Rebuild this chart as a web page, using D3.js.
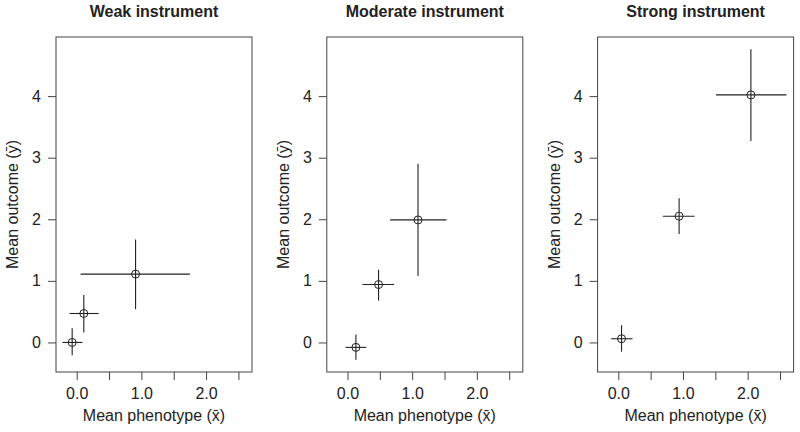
<!DOCTYPE html>
<html>
<head>
<meta charset="utf-8">
<script src="https://cdn.jsdelivr.net/npm/d3@7"></script>
<style>
  body { margin: 0; background: #fff; }
  text { font-family: "Liberation Sans", Arial, Helvetica, sans-serif; fill: #222; }
</style>
</head>
<body>
<div id="chart"></div>
<script>
// panel titles
const titles = ["Weak instrument", "Moderate instrument", "Strong instrument"];

// one row per panel, one value per point
const xMean = [[-0.07, 0.11, 0.91], [0.13, 0.48, 1.09], [0.05, 0.94, 2.05]];
const xLow  = [[-0.22, -0.11, 0.06], [-0.03, 0.23, 0.66], [-0.11, 0.69, 1.51]];
const xHigh = [[0.09, 0.34, 1.75], [0.29, 0.72, 1.53], [0.22, 1.18, 2.60]];
const yMean = [[0.00, 0.47, 1.11], [-0.08, 0.94, 1.99], [0.06, 2.05, 4.02]];
const yLow  = [[-0.21, 0.16, 0.54], [-0.28, 0.68, 1.08], [-0.15, 1.76, 3.27]];
const yHigh = [[0.23, 0.77, 1.67], [0.13, 1.18, 2.90], [0.28, 2.34, 4.76]];

// ticks
const xTicks = [0, 0.5, 1, 1.5, 2, 2.5];
const xTickLabels = ["0.0", "", "1.0", "", "2.0", ""];
const yTicks = [0, 1, 2, 3, 4];

const width = 800, height = 432;
const boxW = 196, plotTop = 37, plotBottom = 372;

const svg = d3.select("#chart")
    .append("svg")
    .attr("width", width)
    .attr("height", height);

titles.forEach((title, i) => {
    const left = 56 + i * 270.8;

    let xScale = d3.scaleLinear()
        .domain([-0.32, 2.71])
        .range([left, left + boxW]);

    let yScale = d3.scaleLinear()
        .domain([-0.48, 4.96])
        .range([plotBottom, plotTop]);

    const g = svg.append("g");

    // box round the plot
    g.append("rect")
        .attr("x", left)
        .attr("y", plotTop)
        .attr("width", boxW)
        .attr("height", plotBottom - plotTop)
        .attr("fill", "none")
        .attr("stroke", "#444")
        .attr("stroke-width", 1);

    // x axis
    const xAxis = g.append("g")
        .attr("transform", `translate(0,${plotBottom})`)
        .call(d3.axisBottom(xScale)
            .tickValues(xTicks)
            .tickFormat((d, k) => xTickLabels[k])
            .tickSize(8)
            .tickPadding(8));
    xAxis.select(".domain").remove();

    // y axis
    const yAxis = g.append("g")
        .attr("transform", `translate(${left},0)`)
        .call(d3.axisLeft(yScale)
            .tickValues(yTicks)
            .tickFormat(d3.format("d"))
            .tickSize(8)
            .tickPadding(7));
    yAxis.select(".domain").remove();

    g.selectAll(".tick line").attr("stroke", "#444");
    g.selectAll(".tick text")
        .attr("font-size", "16px")
        .attr("font-family", "Liberation Sans, Arial, sans-serif")
        .attr("fill", "#222");

    // title
    g.append("text")
        .attr("x", left + boxW / 2)
        .attr("y", 17)
        .attr("text-anchor", "middle")
        .attr("font-size", "16px")
        .attr("font-weight", "bold")
        .text(title);

    // axis titles
    g.append("text")
        .attr("x", left + boxW / 2)
        .attr("y", 421)
        .attr("text-anchor", "middle")
        .attr("font-size", "16px")
        .text("Mean phenotype (x\u0304)");

    g.append("text")
        .attr("transform", `translate(${left - 38},${(plotTop + plotBottom) / 2}) rotate(-90)`)
        .attr("text-anchor", "middle")
        .attr("font-size", "16px")
        .text("Mean outcome (y\u0304)");

    const pts = d3.range(xMean[i].length);

    // horizontal error bars
    g.selectAll(".hbar")
        .data(pts)
        .enter()
        .append("line")
        .attr("x1", (k) => xScale(xLow[i][k]))
        .attr("x2", (k) => xScale(xHigh[i][k]))
        .attr("y1", (k) => yScale(yMean[i][k]))
        .attr("y2", (k) => yScale(yMean[i][k]))
        .attr("stroke", "#222")
        .attr("stroke-width", 1.1);

    // vertical error bars
    g.selectAll(".vbar")
        .data(pts)
        .enter()
        .append("line")
        .attr("x1", (k) => xScale(xMean[i][k]))
        .attr("x2", (k) => xScale(xMean[i][k]))
        .attr("y1", (k) => yScale(yLow[i][k]))
        .attr("y2", (k) => yScale(yHigh[i][k]))
        .attr("stroke", "#222")
        .attr("stroke-width", 1.1);

    // points
    g.selectAll("circle")
        .data(pts)
        .enter()
        .append("circle")
        .attr("cx", (k) => xScale(xMean[i][k]))
        .attr("cy", (k) => yScale(yMean[i][k]))
        .attr("r", 4)
        .attr("fill", "none")
        .attr("stroke", "#222")
        .attr("stroke-width", 1);
});
</script>
</body>
</html>
